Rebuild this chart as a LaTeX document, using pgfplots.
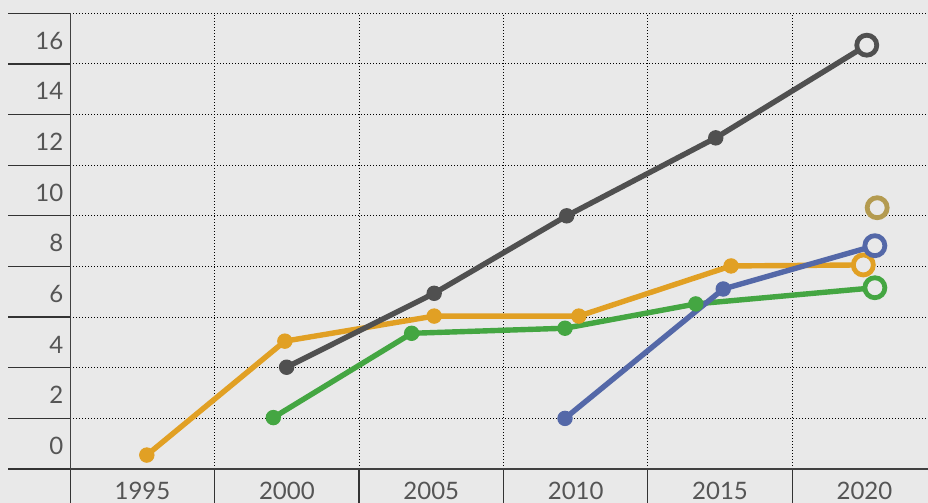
\documentclass[border=0pt]{standalone}
\usepackage{pgfplots}
\pgfplotsset{compat=1.18}
\usepackage{fontspec}
\setmainfont{Lato}

\definecolor{bg}{RGB}{233,233,233}
\definecolor{lab}{RGB}{85,85,85}
\definecolor{sOrange}{RGB}{225,160,36}
\definecolor{sDark}{RGB}{80,80,80}
\definecolor{sGreen}{RGB}{68,166,66}
\definecolor{sBlue}{RGB}{84,104,168}
\definecolor{sGold}{RGB}{180,155,80}

\pgfplotsset{
  ser/.style={line width=2.7pt, color=#1, mark=*, mark size=3.6pt,
    mark options={solid, line width=0.5pt, fill=#1}},
  last/.style={only marks, color=#1, mark=*, mark size=5pt,
    mark options={solid, line width=2.4pt, draw=#1, fill=bg}},
}

\begin{document}
\begin{tikzpicture}
% picture is 928 x 503 px at 0.5pt per px
\useasboundingbox (-35.15pt,-17pt) rectangle (428.85pt,234.5pt);
\clip (-35.15pt,-17pt) rectangle (428.85pt,234.5pt);
\fill[bg] (-35.15pt,-17pt) rectangle (428.85pt,234.5pt);
\begin{axis}[
  at={(0,0)}, anchor=south west,
  scale only axis,
  width=428.85pt, height=227.85pt,
  xmin=1992.5, xmax=2022.2,
  ymin=-1, ymax=17,
  enlargelimits=false,
  axis lines=left,
  axis line style={-, draw=black!75, line width=0.6pt},
  tick align=outside,
  xtick={1995,2000,2005,2010,2015,2020},
  xticklabels={1995,2000,2005,2010,2015,2020},
  ytick={0,2,...,16},
  minor xtick={1992.5,1997.5,2002.5,2007.5,2012.5,2017.5},
  minor ytick={-1,1,...,17},
  major tick length=0pt,
  minor tick length=31pt,
  every minor tick/.style={draw=black!80, line width=0.6pt},
  grid=minor,
  minor grid style={draw=black, line width=0.5pt, dash pattern=on 0.5pt off 1pt},
  ticklabel style={font=\fontsize{12}{14}\selectfont, text=lab},
  xticklabel style={yshift=-3pt},
  yticklabel style={yshift=-1pt},
  /pgf/number format/assume math mode=true,
]
\addplot[ser=sOrange, mark indices={1,2,3,4,5}] coordinates {
  (1995.15,-0.45) (1999.93,4.05) (2005.10,5.04) (2010.11,5.04) (2015.38,7.02) (2019.96,7.06)};
\addplot[last=sOrange] coordinates {(2019.96,7.06)};

\addplot[ser=sGreen, mark indices={1,2,3,4}] coordinates {
  (1999.53,1.03) (2004.32,4.36) (2009.63,4.56) (2014.16,5.52) (2020.36,6.16)};
\addplot[last=sGreen] coordinates {(2020.36,6.16)};

\addplot[ser=sDark, mark indices={1,2,3,4}] coordinates {
  (1999.99,3.02) (2005.10,5.94) (2009.69,9.00) (2014.85,12.08) (2020.08,15.74)};
\addplot[last=sDark] coordinates {(2020.08,15.74)};

\addplot[ser=sBlue, mark indices={1,2}] coordinates {
  (2009.63,1.00) (2015.11,6.11) (2020.36,7.82)};
\addplot[last=sBlue] coordinates {(2020.36,7.82)};

\addplot[last=sGold] coordinates {(2020.44,9.32)};
\end{axis}
\end{tikzpicture}
\end{document}
